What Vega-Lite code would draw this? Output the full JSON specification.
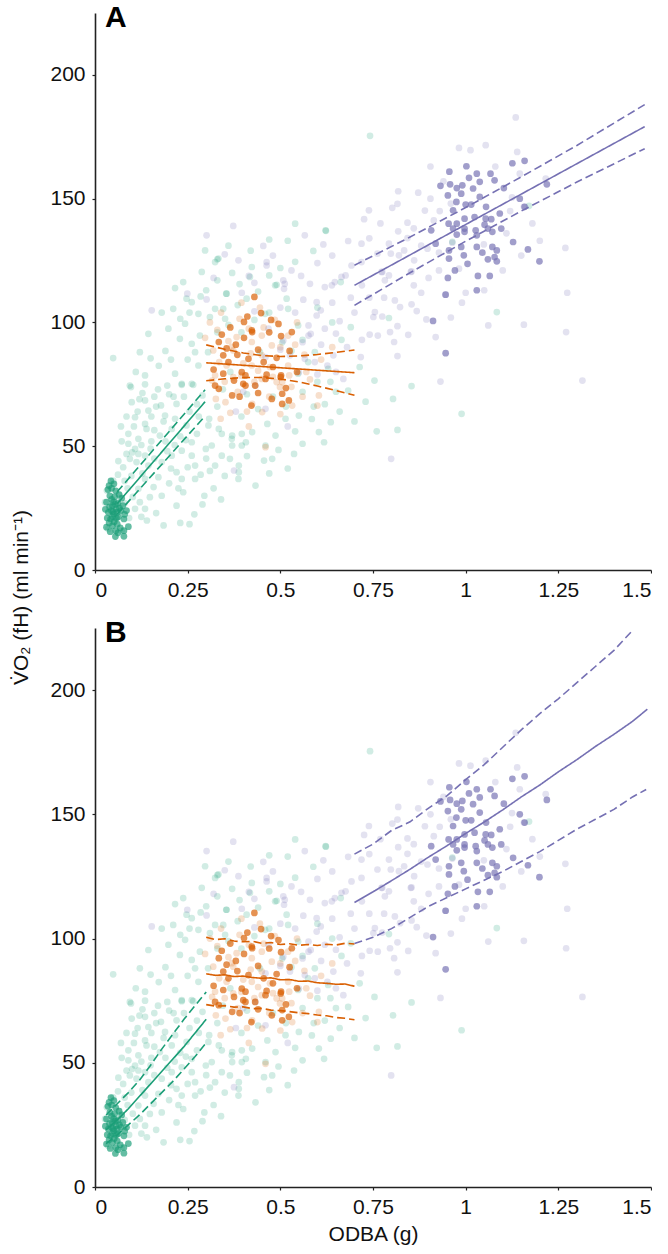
{
"$schema": "https://vega.github.io/schema/vega-lite/v6.json",
"padding": {"left": 10, "top": 3, "right": 0, "bottom": 5},
"background": "white",
"config": {
 "view": {"stroke": null},
 "font": "Liberation Sans",
 "axis": {"grid": false, "domainColor": "#222222", "domainWidth": 1.6, "tickColor": "#222222", "tickSize": 3, "tickWidth": 1.2, "labelFontSize": 21, "labelColor": "#111111", "titleFontSize": 21, "titleFontWeight": "normal", "titleColor": "#111111", "labelFont": "Liberation Sans", "titleFont": "Liberation Sans"}
},
"datasets": {
 "pts": [
{"x":0.097,"y":73.9,"g":"G","s":"all"},{"x":0.099,"y":67.8,"g":"G","s":"all"},{"x":0.135,"y":68.5,"g":"G","s":"all"},{"x":0.144,"y":64.4,"g":"G","s":"all"},{"x":0.108,"y":61.7,"g":"G","s":"all"},{"x":0.135,"y":59.0,"g":"G","s":"all"},{"x":0.189,"y":62.4,"g":"G","s":"all"},{"x":0.220,"y":67.1,"g":"G","s":"all"},{"x":0.234,"y":74.8,"g":"G","s":"all"},{"x":0.265,"y":74.8,"g":"G","s":"all"},{"x":0.216,"y":61.1,"g":"G","s":"all"},{"x":0.247,"y":58.4,"g":"G","s":"all"},{"x":0.090,"y":55.0,"g":"G","s":"all"},{"x":0.117,"y":53.0,"g":"G","s":"all"},{"x":0.139,"y":57.0,"g":"G","s":"all"},{"x":0.175,"y":54.3,"g":"G","s":"all"},{"x":0.207,"y":57.0,"g":"G","s":"all"},{"x":0.090,"y":51.0,"g":"G","s":"all"},{"x":0.108,"y":48.9,"g":"G","s":"all"},{"x":0.085,"y":46.9,"g":"G","s":"all"},{"x":0.117,"y":46.9,"g":"G","s":"all"},{"x":0.135,"y":46.2,"g":"G","s":"all"},{"x":0.094,"y":44.9,"g":"G","s":"all"},{"x":0.112,"y":43.6,"g":"G","s":"all"},{"x":0.076,"y":41.5,"g":"G","s":"all"},{"x":0.144,"y":42.2,"g":"G","s":"all"},{"x":0.180,"y":43.6,"g":"G","s":"all"},{"x":0.207,"y":46.2,"g":"G","s":"all"},{"x":0.234,"y":48.2,"g":"G","s":"all"},{"x":0.261,"y":46.2,"g":"G","s":"all"},{"x":0.270,"y":42.2,"g":"G","s":"all"},{"x":0.270,"y":36.8,"g":"G","s":"all"},{"x":0.234,"y":36.8,"g":"G","s":"all"},{"x":0.220,"y":39.5,"g":"G","s":"all"},{"x":0.171,"y":37.5,"g":"G","s":"all"},{"x":0.135,"y":36.8,"g":"G","s":"all"},{"x":0.117,"y":32.8,"g":"G","s":"all"},{"x":0.148,"y":29.4,"g":"G","s":"all"},{"x":0.121,"y":27.4,"g":"G","s":"all"},{"x":0.135,"y":24.7,"g":"G","s":"all"},{"x":0.108,"y":24.7,"g":"G","s":"all"},{"x":0.220,"y":26.0,"g":"G","s":"all"},{"x":0.238,"y":31.4,"g":"G","s":"all"},{"x":0.072,"y":15.9,"g":"G","s":"all"},{"x":0.036,"y":16.6,"g":"G","s":"all"},{"x":0.054,"y":20.6,"g":"G","s":"all"},{"x":0.027,"y":27.4,"g":"G","s":"all"},{"x":0.032,"y":32.1,"g":"G","s":"all"},{"x":0.049,"y":36.1,"g":"G","s":"all"},{"x":0.306,"y":58.4,"g":"G","s":"all"},{"x":0.342,"y":55.0,"g":"G","s":"all"},{"x":0.369,"y":53.0,"g":"G","s":"all"},{"x":0.396,"y":55.0,"g":"G","s":"all"},{"x":0.315,"y":50.3,"g":"G","s":"all"},{"x":0.342,"y":46.2,"g":"G","s":"all"},{"x":0.364,"y":44.9,"g":"G","s":"all"},{"x":0.387,"y":36.8,"g":"G","s":"all"},{"x":0.396,"y":50.3,"g":"G","s":"all"},{"x":0.324,"y":42.2,"g":"G","s":"all"},{"x":0.261,"y":51.6,"g":"G","s":"all"},{"x":0.180,"y":30.0,"g":"G","s":"all"},
{"x":0.100,"y":47.5,"g":"G","s":"all"},{"x":0.125,"y":50.5,"g":"G","s":"all"},{"x":0.150,"y":49.0,"g":"G","s":"all"},{"x":0.160,"y":45.0,"g":"G","s":"all"},{"x":0.128,"y":39.0,"g":"G","s":"all"},{"x":0.098,"y":38.0,"g":"G","s":"all"},{"x":0.088,"y":33.0,"g":"G","s":"all"},{"x":0.102,"y":29.5,"g":"G","s":"all"},{"x":0.158,"y":33.5,"g":"G","s":"all"},{"x":0.195,"y":48.0,"g":"G","s":"all"},{"x":0.205,"y":41.0,"g":"G","s":"all"},{"x":0.185,"y":60.0,"g":"G","s":"all"},{"x":0.165,"y":66.0,"g":"G","s":"all"},{"x":0.120,"y":69.0,"g":"G","s":"all"},{"x":0.255,"y":64.0,"g":"G","s":"all"},{"x":0.280,"y":62.0,"g":"G","s":"all"},{"x":0.290,"y":70.5,"g":"G","s":"all"},{"x":0.230,"y":54.0,"g":"G","s":"all"},{"x":0.250,"y":41.5,"g":"G","s":"all"},{"x":0.200,"y":35.0,"g":"G","s":"all"},{"x":0.140,"y":20.0,"g":"G","s":"all"},{"x":0.125,"y":21.5,"g":"G","s":"all"},{"x":0.165,"y":23.0,"g":"G","s":"all"},{"x":0.065,"y":30.5,"g":"G","s":"all"},{"x":0.080,"y":27.0,"g":"G","s":"all"},{"x":0.092,"y":21.0,"g":"G","s":"all"},{"x":0.152,"y":52.0,"g":"G","s":"all"},{"x":0.072,"y":52.0,"g":"G","s":"all"},{"x":0.063,"y":44.0,"g":"G","s":"all"},{"x":0.170,"y":73.0,"g":"G","s":"all"},{"x":0.200,"y":71.0,"g":"G","s":"all"},{"x":0.135,"y":75.0,"g":"G","s":"all"},{"x":0.295,"y":30.0,"g":"G","s":"all"},{"x":0.285,"y":38.5,"g":"G","s":"all"},{"x":0.225,"y":33.0,"g":"G","s":"all"},{"x":0.300,"y":45.0,"g":"G","s":"all"},{"x":0.310,"y":40.0,"g":"G","s":"all"},{"x":0.268,"y":22.5,"g":"G","s":"all"},{"x":0.230,"y":19.0,"g":"G","s":"all"},{"x":0.185,"y":18.0,"g":"G","s":"all"},
{"x":0.540,"y":139.9,"g":"G","s":"all"},{"x":0.623,"y":137.0,"g":"G","s":"all"},{"x":0.589,"y":128.9,"g":"G","s":"all"},{"x":0.297,"y":129.1,"g":"G","s":"all"},{"x":0.324,"y":124.4,"g":"G","s":"all"},{"x":0.333,"y":125.8,"g":"G","s":"all"},{"x":0.288,"y":120.4,"g":"G","s":"all"},{"x":0.423,"y":122.4,"g":"G","s":"all"},{"x":0.418,"y":118.4,"g":"G","s":"all"},{"x":0.238,"y":116.3,"g":"G","s":"all"},{"x":0.216,"y":113.9,"g":"G","s":"all"},{"x":0.247,"y":109.6,"g":"G","s":"all"},{"x":0.261,"y":108.2,"g":"G","s":"all"},{"x":0.355,"y":111.6,"g":"G","s":"all"},{"x":0.409,"y":109.6,"g":"G","s":"all"},{"x":0.486,"y":115.0,"g":"G","s":"all"},{"x":0.517,"y":109.6,"g":"G","s":"all"},{"x":0.211,"y":105.5,"g":"G","s":"all"},{"x":0.279,"y":103.5,"g":"G","s":"all"},{"x":0.324,"y":105.5,"g":"G","s":"all"},{"x":0.346,"y":105.5,"g":"G","s":"all"},{"x":0.351,"y":101.5,"g":"G","s":"all"},{"x":0.310,"y":102.2,"g":"G","s":"all"},{"x":0.144,"y":95.4,"g":"G","s":"all"},{"x":0.198,"y":97.5,"g":"G","s":"all"},{"x":0.243,"y":99.5,"g":"G","s":"all"},{"x":0.121,"y":88.0,"g":"G","s":"all"},{"x":0.229,"y":93.4,"g":"G","s":"all"},{"x":0.261,"y":91.4,"g":"G","s":"all"},{"x":0.283,"y":94.7,"g":"G","s":"all"},{"x":0.049,"y":85.6,"g":"G","s":"all"},{"x":0.135,"y":78.6,"g":"G","s":"all"},{"x":0.094,"y":74.5,"g":"G","s":"all"},{"x":0.216,"y":79.3,"g":"G","s":"all"},{"x":0.279,"y":82.6,"g":"G","s":"all"},{"x":0.234,"y":75.2,"g":"G","s":"all"},{"x":0.261,"y":75.2,"g":"G","s":"all"},{"x":0.548,"y":98.8,"g":"G","s":"all"},{"x":0.548,"y":79.3,"g":"G","s":"all"},{"x":0.593,"y":88.0,"g":"G","s":"all"},{"x":0.629,"y":81.3,"g":"G","s":"all"},{"x":0.459,"y":103.5,"g":"G","s":"all"},{"x":0.521,"y":105.5,"g":"G","s":"all"},
{"x":0.305,"y":88.0,"g":"G","s":"all"},{"x":0.330,"y":96.0,"g":"G","s":"all"},{"x":0.360,"y":99.0,"g":"G","s":"all"},{"x":0.385,"y":107.0,"g":"G","s":"all"},{"x":0.395,"y":96.0,"g":"G","s":"all"},{"x":0.430,"y":101.0,"g":"G","s":"all"},{"x":0.445,"y":88.0,"g":"G","s":"all"},{"x":0.470,"y":104.0,"g":"G","s":"all"},{"x":0.505,"y":92.0,"g":"G","s":"all"},{"x":0.530,"y":88.5,"g":"G","s":"all"},{"x":0.560,"y":93.0,"g":"G","s":"all"},{"x":0.575,"y":84.0,"g":"G","s":"all"},{"x":0.345,"y":73.0,"g":"G","s":"all"},{"x":0.365,"y":80.0,"g":"G","s":"all"},{"x":0.410,"y":71.0,"g":"G","s":"all"},{"x":0.440,"y":65.0,"g":"G","s":"all"},{"x":0.480,"y":70.0,"g":"G","s":"all"},{"x":0.515,"y":66.0,"g":"G","s":"all"},{"x":0.560,"y":72.0,"g":"G","s":"all"},{"x":0.600,"y":76.0,"g":"G","s":"all"},{"x":0.330,"y":66.0,"g":"G","s":"all"},{"x":0.395,"y":62.0,"g":"G","s":"all"},{"x":0.465,"y":59.0,"g":"G","s":"all"},{"x":0.540,"y":56.0,"g":"G","s":"all"},{"x":0.585,"y":61.0,"g":"G","s":"all"},{"x":0.620,"y":67.0,"g":"G","s":"all"},{"x":0.650,"y":72.0,"g":"G","s":"all"},{"x":0.665,"y":93.0,"g":"G","s":"all"},{"x":0.640,"y":100.0,"g":"G","s":"all"},{"x":0.600,"y":106.0,"g":"G","s":"all"},
{"x":0.299,"y":48.9,"g":"G","s":"all"},{"x":0.370,"y":54.3,"g":"G","s":"all"},{"x":0.370,"y":50.3,"g":"G","s":"all"},{"x":0.388,"y":42.2,"g":"G","s":"all"},{"x":0.388,"y":39.5,"g":"G","s":"all"},{"x":0.407,"y":51.6,"g":"G","s":"all"},{"x":0.424,"y":55.7,"g":"G","s":"all"},{"x":0.460,"y":50.3,"g":"G","s":"all"},{"x":0.478,"y":44.9,"g":"G","s":"all"},{"x":0.537,"y":46.9,"g":"G","s":"all"},{"x":0.604,"y":55.7,"g":"G","s":"all"},{"x":0.618,"y":51.6,"g":"G","s":"all"},{"x":0.636,"y":59.7,"g":"G","s":"all"},{"x":0.334,"y":57.0,"g":"G","s":"all"},{"x":0.308,"y":61.1,"g":"G","s":"all"},{"x":0.514,"y":61.1,"g":"G","s":"all"},{"x":0.550,"y":62.4,"g":"G","s":"all"},{"x":0.487,"y":54.3,"g":"G","s":"all"},{"x":0.456,"y":44.2,"g":"G","s":"all"},{"x":0.433,"y":34.1,"g":"G","s":"all"},
{"x":0.663,"y":116.3,"g":"G","s":"all"},{"x":0.793,"y":101.8,"g":"G","s":"all"},{"x":0.690,"y":98.1,"g":"G","s":"all"},{"x":0.714,"y":82.0,"g":"G","s":"all"},{"x":0.754,"y":76.5,"g":"G","s":"all"},{"x":0.854,"y":74.3,"g":"G","s":"all"},{"x":0.804,"y":69.1,"g":"G","s":"all"},{"x":0.816,"y":56.6,"g":"G","s":"all"},{"x":0.989,"y":63.1,"g":"G","s":"all"},{"x":1.084,"y":104.2,"g":"G","s":"all"},{"x":0.683,"y":72.5,"g":"G","s":"all"},{"x":0.742,"y":175.4,"g":"G","s":"all"},{"x":1.171,"y":147.1,"g":"G","s":"all"},{"x":0.622,"y":137.2,"g":"G","s":"all"},{"x":0.330,"y":125.5,"g":"G","s":"all"},{"x":0.354,"y":111.6,"g":"G","s":"all"},{"x":0.490,"y":115.2,"g":"G","s":"all"},{"x":0.964,"y":132.6,"g":"G","s":"all"},
{"x":0.105,"y":58.0,"g":"G","s":"all"},{"x":0.115,"y":64.0,"g":"G","s":"all"},{"x":0.128,"y":71.5,"g":"G","s":"all"},{"x":0.152,"y":62.0,"g":"G","s":"all"},{"x":0.160,"y":70.0,"g":"G","s":"all"},{"x":0.178,"y":66.5,"g":"G","s":"all"},{"x":0.195,"y":74.5,"g":"G","s":"all"},{"x":0.212,"y":70.0,"g":"G","s":"all"},{"x":0.240,"y":70.0,"g":"G","s":"all"},{"x":0.275,"y":67.0,"g":"G","s":"all"},{"x":0.160,"y":56.5,"g":"G","s":"all"},{"x":0.190,"y":52.0,"g":"G","s":"all"},{"x":0.215,"y":50.5,"g":"G","s":"all"},{"x":0.245,"y":52.5,"g":"G","s":"all"},{"x":0.275,"y":55.0,"g":"G","s":"all"},{"x":0.172,"y":82.5,"g":"G","s":"all"},{"x":0.190,"y":88.5,"g":"G","s":"all"},{"x":0.205,"y":85.0,"g":"G","s":"all"},{"x":0.250,"y":85.0,"g":"G","s":"all"},{"x":0.270,"y":88.0,"g":"G","s":"all"},{"x":0.255,"y":104.0,"g":"G","s":"all"},{"x":0.230,"y":101.5,"g":"G","s":"all"},{"x":0.180,"y":104.0,"g":"G","s":"all"},{"x":0.300,"y":113.0,"g":"G","s":"all"},{"x":0.330,"y":117.0,"g":"G","s":"all"},{"x":0.370,"y":120.0,"g":"G","s":"all"},{"x":0.390,"y":115.5,"g":"G","s":"all"},{"x":0.440,"y":112.5,"g":"G","s":"all"},{"x":0.470,"y":119.0,"g":"G","s":"all"},{"x":0.500,"y":122.0,"g":"G","s":"all"},{"x":0.540,"y":124.5,"g":"G","s":"all"},{"x":0.520,"y":133.0,"g":"G","s":"all"},{"x":0.470,"y":133.5,"g":"G","s":"all"},{"x":0.420,"y":129.0,"g":"G","s":"all"},{"x":0.360,"y":131.0,"g":"G","s":"all"},{"x":0.285,"y":110.5,"g":"G","s":"all"},{"x":0.150,"y":85.5,"g":"G","s":"all"},{"x":0.110,"y":80.0,"g":"G","s":"all"},{"x":0.085,"y":62.0,"g":"G","s":"all"},{"x":0.070,"y":58.0,"g":"G","s":"all"},{"x":0.062,"y":38.5,"g":"G","s":"all"},{"x":0.080,"y":36.0,"g":"G","s":"all"},{"x":0.290,"y":26.5,"g":"G","s":"all"},{"x":0.255,"y":18.5,"g":"G","s":"all"},{"x":0.320,"y":33.0,"g":"G","s":"all"},{"x":0.350,"y":38.0,"g":"G","s":"all"},{"x":0.410,"y":46.0,"g":"G","s":"all"},{"x":0.495,"y":48.5,"g":"G","s":"all"},{"x":0.560,"y":51.0,"g":"G","s":"all"},{"x":0.590,"y":66.0,"g":"G","s":"all"},{"x":0.635,"y":76.0,"g":"G","s":"all"},{"x":0.660,"y":64.0,"g":"G","s":"all"},{"x":0.700,"y":60.0,"g":"G","s":"all"},{"x":0.730,"y":68.0,"g":"G","s":"all"},{"x":0.760,"y":56.0,"g":"G","s":"all"},{"x":0.470,"y":39.0,"g":"G","s":"all"},{"x":0.520,"y":41.0,"g":"G","s":"all"},{"x":0.340,"y":28.5,"g":"G","s":"all"},
{"x":0.297,"y":93.8,"g":"O","s":"all"},{"x":0.319,"y":88.7,"g":"O","s":"all"},{"x":0.369,"y":90.1,"g":"O","s":"all"},{"x":0.423,"y":92.1,"g":"O","s":"all"},{"x":0.450,"y":94.7,"g":"O","s":"all"},{"x":0.477,"y":90.7,"g":"O","s":"all"},{"x":0.521,"y":94.7,"g":"O","s":"all"},{"x":0.450,"y":86.7,"g":"O","s":"all"},{"x":0.355,"y":82.6,"g":"O","s":"all"},{"x":0.423,"y":82.6,"g":"O","s":"all"},{"x":0.472,"y":82.0,"g":"O","s":"all"},{"x":0.521,"y":82.6,"g":"O","s":"all"},{"x":0.324,"y":78.6,"g":"O","s":"all"},{"x":0.373,"y":77.9,"g":"O","s":"all"},{"x":0.450,"y":77.2,"g":"O","s":"all"},{"x":0.490,"y":75.9,"g":"O","s":"all"},{"x":0.524,"y":78.6,"g":"O","s":"all"},{"x":0.373,"y":88.7,"g":"O","s":"all"},{"x":0.415,"y":97.5,"g":"O","s":"all"},{"x":0.382,"y":94.1,"g":"O","s":"all"},{"x":0.499,"y":73.9,"g":"O","s":"all"},{"x":0.326,"y":69.1,"g":"O","s":"all"},{"x":0.352,"y":67.8,"g":"O","s":"all"},{"x":0.424,"y":67.1,"g":"O","s":"all"},{"x":0.451,"y":63.8,"g":"O","s":"all"},{"x":0.460,"y":49.6,"g":"O","s":"all"},{"x":0.316,"y":76.5,"g":"O","s":"all"},{"x":0.600,"y":66.4,"g":"O","s":"all"},{"x":0.604,"y":70.5,"g":"O","s":"all"},{"x":0.505,"y":75.9,"g":"O","s":"all"},{"x":0.532,"y":66.4,"g":"O","s":"all"},{"x":0.339,"y":61.1,"g":"O","s":"all"},{"x":0.310,"y":100.0,"g":"O","s":"all"},{"x":0.340,"y":104.0,"g":"O","s":"all"},{"x":0.395,"y":108.0,"g":"O","s":"all"},{"x":0.445,"y":106.0,"g":"O","s":"all"},{"x":0.485,"y":101.0,"g":"O","s":"all"},{"x":0.545,"y":100.0,"g":"O","s":"all"},{"x":0.565,"y":87.0,"g":"O","s":"all"},{"x":0.580,"y":77.0,"g":"O","s":"all"},{"x":0.335,"y":84.0,"g":"O","s":"all"},{"x":0.400,"y":83.5,"g":"O","s":"all"},{"x":0.430,"y":76.0,"g":"O","s":"all"},{"x":0.470,"y":70.0,"g":"O","s":"all"},{"x":0.385,"y":72.0,"g":"O","s":"all"},{"x":0.560,"y":70.0,"g":"O","s":"all"},{"x":0.415,"y":58.0,"g":"O","s":"all"},{"x":0.640,"y":90.0,"g":"O","s":"all"},{"x":0.610,"y":85.0,"g":"O","s":"all"},
{"x":0.330,"y":97.0,"g":"O","s":"all"},{"x":0.360,"y":92.5,"g":"O","s":"all"},{"x":0.390,"y":101.5,"g":"O","s":"all"},{"x":0.420,"y":87.5,"g":"O","s":"all"},{"x":0.455,"y":98.0,"g":"O","s":"all"},{"x":0.500,"y":90.0,"g":"O","s":"all"},{"x":0.540,"y":91.0,"g":"O","s":"all"},{"x":0.350,"y":76.0,"g":"O","s":"all"},{"x":0.395,"y":78.5,"g":"O","s":"all"},{"x":0.440,"y":80.5,"g":"O","s":"all"},{"x":0.480,"y":78.0,"g":"O","s":"all"},{"x":0.530,"y":74.0,"g":"O","s":"all"},{"x":0.570,"y":80.0,"g":"O","s":"all"},{"x":0.365,"y":63.5,"g":"O","s":"all"},{"x":0.410,"y":64.0,"g":"O","s":"all"},{"x":0.500,"y":63.0,"g":"O","s":"all"},
{"x":0.301,"y":135.2,"g":"P","s":"all"},{"x":0.373,"y":139.0,"g":"P","s":"all"},{"x":0.566,"y":135.2,"g":"P","s":"all"},{"x":0.616,"y":131.5,"g":"P","s":"all"},{"x":0.454,"y":130.9,"g":"P","s":"all"},{"x":0.387,"y":125.1,"g":"P","s":"all"},{"x":0.463,"y":124.4,"g":"P","s":"all"},{"x":0.463,"y":123.0,"g":"P","s":"all"},{"x":0.508,"y":117.0,"g":"P","s":"all"},{"x":0.512,"y":115.6,"g":"P","s":"all"},{"x":0.556,"y":118.8,"g":"P","s":"all"},{"x":0.580,"y":115.6,"g":"P","s":"all"},{"x":0.620,"y":114.3,"g":"P","s":"all"},{"x":0.639,"y":115.0,"g":"P","s":"all"},{"x":0.647,"y":116.3,"g":"P","s":"all"},{"x":0.665,"y":118.4,"g":"P","s":"all"},{"x":0.396,"y":112.0,"g":"P","s":"all"},{"x":0.301,"y":109.3,"g":"P","s":"all"},{"x":0.153,"y":104.9,"g":"P","s":"all"},{"x":0.562,"y":109.2,"g":"P","s":"all"},{"x":0.598,"y":108.2,"g":"P","s":"all"},{"x":0.598,"y":102.8,"g":"P","s":"all"},{"x":0.620,"y":97.5,"g":"P","s":"all"},{"x":0.576,"y":98.8,"g":"P","s":"all"},{"x":0.576,"y":94.7,"g":"P","s":"all"},{"x":0.508,"y":92.7,"g":"P","s":"all"},{"x":0.468,"y":97.5,"g":"P","s":"all"},{"x":0.526,"y":86.7,"g":"P","s":"all"},{"x":0.566,"y":85.3,"g":"P","s":"all"},{"x":0.593,"y":84.0,"g":"P","s":"all"},{"x":0.643,"y":86.7,"g":"P","s":"all"},{"x":0.670,"y":77.2,"g":"P","s":"all"},{"x":0.375,"y":40.2,"g":"P","s":"all"},{"x":0.460,"y":65.1,"g":"P","s":"all"},{"x":0.433,"y":74.5,"g":"P","s":"all"},{"x":0.510,"y":113.6,"g":"P","s":"all"},{"x":0.609,"y":104.9,"g":"P","s":"all"},{"x":0.582,"y":95.4,"g":"P","s":"all"},{"x":0.550,"y":79.9,"g":"P","s":"all"},{"x":0.627,"y":82.6,"g":"P","s":"all"},{"x":0.415,"y":118.8,"g":"P","s":"all"},{"x":0.249,"y":111.6,"g":"P","s":"all"},
{"x":0.676,"y":119.0,"g":"P","s":"all"},{"x":0.775,"y":120.4,"g":"P","s":"all"},{"x":0.852,"y":120.4,"g":"P","s":"all"},{"x":0.782,"y":117.0,"g":"P","s":"all"},{"x":0.809,"y":108.9,"g":"P","s":"all"},{"x":0.823,"y":106.2,"g":"P","s":"all"},{"x":0.854,"y":107.3,"g":"P","s":"all"},{"x":0.868,"y":104.6,"g":"P","s":"all"},{"x":0.755,"y":104.2,"g":"P","s":"all"},{"x":0.751,"y":102.2,"g":"P","s":"all"},{"x":0.775,"y":102.4,"g":"P","s":"all"},{"x":0.816,"y":98.5,"g":"P","s":"all"},{"x":0.894,"y":101.2,"g":"P","s":"all"},{"x":0.741,"y":95.1,"g":"P","s":"all"},{"x":0.763,"y":94.7,"g":"P","s":"all"},{"x":0.796,"y":96.1,"g":"P","s":"all"},{"x":0.807,"y":92.1,"g":"P","s":"all"},{"x":0.845,"y":95.0,"g":"P","s":"all"},{"x":0.919,"y":94.1,"g":"P","s":"all"},{"x":0.945,"y":111.2,"g":"P","s":"all"},{"x":0.717,"y":86.0,"g":"P","s":"all"},{"x":0.816,"y":86.4,"g":"P","s":"all"},{"x":0.932,"y":76.1,"g":"P","s":"all"},{"x":1.061,"y":98.8,"g":"P","s":"all"},{"x":1.157,"y":99.1,"g":"P","s":"all"},{"x":1.274,"y":112.0,"g":"P","s":"all"},{"x":1.271,"y":96.1,"g":"P","s":"all"},{"x":1.315,"y":76.5,"g":"P","s":"all"},{"x":0.799,"y":44.9,"g":"P","s":"all"},{"x":1.269,"y":130.1,"g":"P","s":"all"},{"x":1.139,"y":168.9,"g":"P","s":"all"},{"x":1.146,"y":160.1,"g":"P","s":"all"},{"x":1.135,"y":182.8,"g":"P","s":"all"},{"x":0.982,"y":170.5,"g":"P","s":"all"},{"x":1.013,"y":169.6,"g":"P","s":"all"},{"x":1.054,"y":171.6,"g":"P","s":"all"},{"x":0.818,"y":153.0,"g":"P","s":"all"},{"x":0.872,"y":152.4,"g":"P","s":"all"},{"x":0.802,"y":146.3,"g":"P","s":"all"},{"x":0.816,"y":147.9,"g":"P","s":"all"},{"x":0.739,"y":145.3,"g":"P","s":"all"},{"x":0.726,"y":141.7,"g":"P","s":"all"},{"x":0.890,"y":145.2,"g":"P","s":"all"},{"x":0.843,"y":140.3,"g":"P","s":"all"},{"x":0.914,"y":141.2,"g":"P","s":"all"},{"x":0.818,"y":136.8,"g":"P","s":"all"},{"x":0.683,"y":132.9,"g":"P","s":"all"},{"x":0.719,"y":131.8,"g":"P","s":"all"},{"x":0.793,"y":131.8,"g":"P","s":"all"},{"x":0.843,"y":134.1,"g":"P","s":"all"},{"x":0.762,"y":127.8,"g":"P","s":"all"},{"x":0.798,"y":127.8,"g":"P","s":"all"},{"x":0.820,"y":127.1,"g":"P","s":"all"},{"x":0.834,"y":129.1,"g":"P","s":"all"},{"x":0.692,"y":123.0,"g":"P","s":"all"},{"x":0.719,"y":124.4,"g":"P","s":"all"},{"x":0.861,"y":125.1,"g":"P","s":"all"},{"x":0.897,"y":129.8,"g":"P","s":"all"},{"x":0.773,"y":120.4,"g":"P","s":"all"},{"x":0.793,"y":119.0,"g":"P","s":"all"},{"x":0.854,"y":120.6,"g":"P","s":"all"},{"x":0.928,"y":128.2,"g":"P","s":"all"},{"x":0.928,"y":121.0,"g":"P","s":"all"},{"x":0.964,"y":132.2,"g":"P","s":"all"},{"x":1.049,"y":131.5,"g":"P","s":"all"},{"x":0.982,"y":121.7,"g":"P","s":"all"},{"x":1.216,"y":158.1,"g":"P","s":"all"},{"x":1.157,"y":146.7,"g":"P","s":"all"},{"x":1.125,"y":150.5,"g":"P","s":"all"},{"x":1.000,"y":112.0,"g":"P","s":"all"},{"x":1.110,"y":136.0,"g":"P","s":"all"},{"x":0.960,"y":148.0,"g":"P","s":"all"},{"x":0.905,"y":163.0,"g":"P","s":"all"},
{"x":0.320,"y":118.0,"g":"P","s":"all"},{"x":0.350,"y":127.5,"g":"P","s":"all"},{"x":0.430,"y":116.0,"g":"P","s":"all"},{"x":0.480,"y":127.0,"g":"P","s":"all"},{"x":0.530,"y":121.0,"g":"P","s":"all"},{"x":0.600,"y":124.0,"g":"P","s":"all"},{"x":0.640,"y":127.0,"g":"P","s":"all"},{"x":0.690,"y":110.0,"g":"P","s":"all"},{"x":0.720,"y":115.0,"g":"P","s":"all"},{"x":0.740,"y":110.0,"g":"P","s":"all"},{"x":0.700,"y":104.0,"g":"P","s":"all"},{"x":0.660,"y":100.5,"g":"P","s":"all"},{"x":0.640,"y":108.0,"g":"P","s":"all"},{"x":0.540,"y":104.0,"g":"P","s":"all"},{"x":0.500,"y":106.0,"g":"P","s":"all"},{"x":0.430,"y":104.5,"g":"P","s":"all"},{"x":0.560,"y":92.0,"g":"P","s":"all"},{"x":0.610,"y":91.0,"g":"P","s":"all"},{"x":0.650,"y":95.5,"g":"P","s":"all"},{"x":0.680,"y":90.0,"g":"P","s":"all"},{"x":0.720,"y":93.0,"g":"P","s":"all"},{"x":0.600,"y":79.0,"g":"P","s":"all"},{"x":0.650,"y":80.0,"g":"P","s":"all"},{"x":0.500,"y":89.0,"g":"P","s":"all"},{"x":0.460,"y":86.0,"g":"P","s":"all"},{"x":0.400,"y":72.0,"g":"P","s":"all"},{"x":0.380,"y":64.0,"g":"P","s":"all"},{"x":0.520,"y":58.0,"g":"P","s":"all"},{"x":0.860,"y":115.0,"g":"P","s":"all"},{"x":0.880,"y":112.0,"g":"P","s":"all"},{"x":0.900,"y":118.0,"g":"P","s":"all"},{"x":0.780,"y":110.0,"g":"P","s":"all"},{"x":0.740,"y":134.0,"g":"P","s":"all"},{"x":0.770,"y":140.0,"g":"P","s":"all"},{"x":0.860,"y":138.0,"g":"P","s":"all"},{"x":0.880,"y":131.0,"g":"P","s":"all"},{"x":0.905,"y":150.0,"g":"P","s":"all"},{"x":0.930,"y":145.0,"g":"P","s":"all"},{"x":0.940,"y":157.0,"g":"P","s":"all"},{"x":1.080,"y":163.0,"g":"P","s":"all"},{"x":1.120,"y":145.0,"g":"P","s":"all"},{"x":1.180,"y":140.0,"g":"P","s":"all"},{"x":1.200,"y":133.0,"g":"P","s":"all"},{"x":1.100,"y":121.0,"g":"P","s":"all"},{"x":1.150,"y":127.0,"g":"P","s":"all"},{"x":1.050,"y":113.0,"g":"P","s":"all"},{"x":0.990,"y":108.0,"g":"P","s":"all"},{"x":0.960,"y":102.0,"g":"P","s":"all"},
{"x":0.038,"y":34.1,"g":"G","s":"sel"},{"x":0.051,"y":34.8,"g":"G","s":"sel"},{"x":0.040,"y":30.0,"g":"G","s":"sel"},{"x":0.031,"y":27.4,"g":"G","s":"sel"},{"x":0.047,"y":26.0,"g":"G","s":"sel"},{"x":0.057,"y":24.7,"g":"G","s":"sel"},{"x":0.036,"y":23.3,"g":"G","s":"sel"},{"x":0.051,"y":22.6,"g":"G","s":"sel"},{"x":0.060,"y":23.3,"g":"G","s":"sel"},{"x":0.042,"y":20.6,"g":"G","s":"sel"},{"x":0.031,"y":17.3,"g":"G","s":"sel"},{"x":0.047,"y":17.9,"g":"G","s":"sel"},{"x":0.056,"y":15.9,"g":"G","s":"sel"},{"x":0.078,"y":15.9,"g":"G","s":"sel"},{"x":0.078,"y":13.6,"g":"G","s":"sel"},{"x":0.078,"y":20.6,"g":"G","s":"sel"},{"x":0.045,"y":28.5,"g":"G","s":"sel"},{"x":0.053,"y":29.5,"g":"G","s":"sel"},{"x":0.062,"y":27.0,"g":"G","s":"sel"},{"x":0.066,"y":25.0,"g":"G","s":"sel"},{"x":0.058,"y":21.0,"g":"G","s":"sel"},{"x":0.044,"y":24.0,"g":"G","s":"sel"},{"x":0.039,"y":25.5,"g":"G","s":"sel"},{"x":0.050,"y":27.5,"g":"G","s":"sel"},{"x":0.055,"y":26.5,"g":"G","s":"sel"},{"x":0.049,"y":23.5,"g":"G","s":"sel"},{"x":0.063,"y":21.5,"g":"G","s":"sel"},{"x":0.070,"y":24.0,"g":"G","s":"sel"},{"x":0.035,"y":32.5,"g":"G","s":"sel"},{"x":0.045,"y":33.0,"g":"G","s":"sel"},{"x":0.033,"y":21.0,"g":"G","s":"sel"},{"x":0.028,"y":24.5,"g":"G","s":"sel"},{"x":0.052,"y":19.5,"g":"G","s":"sel"},{"x":0.060,"y":18.5,"g":"G","s":"sel"},{"x":0.068,"y":17.0,"g":"G","s":"sel"},{"x":0.041,"y":15.5,"g":"G","s":"sel"},{"x":0.055,"y":13.5,"g":"G","s":"sel"},{"x":0.072,"y":29.0,"g":"G","s":"sel"},{"x":0.085,"y":24.0,"g":"G","s":"sel"},{"x":0.090,"y":17.5,"g":"G","s":"sel"},{"x":0.075,"y":26.0,"g":"G","s":"sel"},{"x":0.065,"y":30.5,"g":"G","s":"sel"},{"x":0.043,"y":36.0,"g":"G","s":"sel"},{"x":0.056,"y":32.0,"g":"G","s":"sel"},{"x":0.047,"y":21.5,"g":"G","s":"sel"},{"x":0.038,"y":19.0,"g":"G","s":"sel"},{"x":0.062,"y":15.0,"g":"G","s":"sel"},{"x":0.080,"y":22.5,"g":"G","s":"sel"},
{"x":0.430,"y":110.3,"g":"O","s":"sel"},{"x":0.448,"y":103.8,"g":"O","s":"sel"},{"x":0.411,"y":102.4,"g":"O","s":"sel"},{"x":0.423,"y":96.8,"g":"O","s":"sel"},{"x":0.342,"y":95.1,"g":"O","s":"sel"},{"x":0.402,"y":93.8,"g":"O","s":"sel"},{"x":0.502,"y":94.5,"g":"O","s":"sel"},{"x":0.531,"y":96.1,"g":"O","s":"sel"},{"x":0.495,"y":99.4,"g":"O","s":"sel"},{"x":0.384,"y":86.9,"g":"O","s":"sel"},{"x":0.414,"y":85.3,"g":"O","s":"sel"},{"x":0.490,"y":85.7,"g":"O","s":"sel"},{"x":0.346,"y":86.7,"g":"O","s":"sel"},{"x":0.346,"y":79.3,"g":"O","s":"sel"},{"x":0.396,"y":79.9,"g":"O","s":"sel"},{"x":0.406,"y":78.6,"g":"O","s":"sel"},{"x":0.463,"y":78.9,"g":"O","s":"sel"},{"x":0.502,"y":78.6,"g":"O","s":"sel"},{"x":0.400,"y":75.2,"g":"O","s":"sel"},{"x":0.432,"y":74.5,"g":"O","s":"sel"},{"x":0.324,"y":74.5,"g":"O","s":"sel"},{"x":0.334,"y":73.2,"g":"O","s":"sel"},{"x":0.370,"y":70.5,"g":"O","s":"sel"},{"x":0.406,"y":74.5,"g":"O","s":"sel"},{"x":0.422,"y":66.4,"g":"O","s":"sel"},{"x":0.460,"y":77.2,"g":"O","s":"sel"},{"x":0.477,"y":69.1,"g":"O","s":"sel"},{"x":0.501,"y":77.9,"g":"O","s":"sel"},{"x":0.505,"y":71.2,"g":"O","s":"sel"},{"x":0.505,"y":67.1,"g":"O","s":"sel"},{"x":0.523,"y":68.5,"g":"O","s":"sel"},{"x":0.334,"y":92.1,"g":"O","s":"sel"},{"x":0.402,"y":100.2,"g":"O","s":"sel"},{"x":0.424,"y":96.1,"g":"O","s":"sel"},{"x":0.365,"y":98.0,"g":"O","s":"sel"},{"x":0.380,"y":91.0,"g":"O","s":"sel"},{"x":0.440,"y":89.0,"g":"O","s":"sel"},{"x":0.470,"y":96.0,"g":"O","s":"sel"},{"x":0.455,"y":84.0,"g":"O","s":"sel"},{"x":0.360,"y":84.0,"g":"O","s":"sel"},{"x":0.320,"y":81.0,"g":"O","s":"sel"},{"x":0.390,"y":70.0,"g":"O","s":"sel"},{"x":0.440,"y":71.5,"g":"O","s":"sel"},{"x":0.480,"y":82.0,"g":"O","s":"sel"},{"x":0.545,"y":80.0,"g":"O","s":"sel"},{"x":0.525,"y":88.5,"g":"O","s":"sel"},{"x":0.515,"y":73.5,"g":"O","s":"sel"},{"x":0.375,"y":76.5,"g":"O","s":"sel"},{"x":0.355,"y":89.5,"g":"O","s":"sel"},{"x":0.475,"y":101.0,"g":"O","s":"sel"},
{"x":1.002,"y":163.1,"g":"P","s":"sel"},{"x":0.956,"y":160.9,"g":"P","s":"sel"},{"x":1.126,"y":164.3,"g":"P","s":"sel"},{"x":1.159,"y":165.3,"g":"P","s":"sel"},{"x":1.030,"y":160.1,"g":"P","s":"sel"},{"x":1.067,"y":160.1,"g":"P","s":"sel"},{"x":0.932,"y":155.2,"g":"P","s":"sel"},{"x":0.958,"y":155.8,"g":"P","s":"sel"},{"x":0.976,"y":154.3,"g":"P","s":"sel"},{"x":0.991,"y":155.4,"g":"P","s":"sel"},{"x":1.009,"y":158.4,"g":"P","s":"sel"},{"x":1.038,"y":156.8,"g":"P","s":"sel"},{"x":1.078,"y":157.4,"g":"P","s":"sel"},{"x":1.103,"y":154.3,"g":"P","s":"sel"},{"x":1.020,"y":154.1,"g":"P","s":"sel"},{"x":0.988,"y":152.0,"g":"P","s":"sel"},{"x":0.952,"y":151.3,"g":"P","s":"sel"},{"x":1.038,"y":150.7,"g":"P","s":"sel"},{"x":0.975,"y":148.7,"g":"P","s":"sel"},{"x":1.000,"y":147.6,"g":"P","s":"sel"},{"x":1.015,"y":147.6,"g":"P","s":"sel"},{"x":1.055,"y":146.7,"g":"P","s":"sel"},{"x":0.966,"y":145.3,"g":"P","s":"sel"},{"x":1.092,"y":144.0,"g":"P","s":"sel"},{"x":1.146,"y":150.0,"g":"P","s":"sel"},{"x":1.159,"y":146.7,"g":"P","s":"sel"},{"x":1.219,"y":155.8,"g":"P","s":"sel"},{"x":0.997,"y":141.9,"g":"P","s":"sel"},{"x":1.024,"y":142.6,"g":"P","s":"sel"},{"x":1.054,"y":141.9,"g":"P","s":"sel"},{"x":1.069,"y":141.7,"g":"P","s":"sel"},{"x":0.954,"y":139.9,"g":"P","s":"sel"},{"x":0.976,"y":139.9,"g":"P","s":"sel"},{"x":1.051,"y":139.5,"g":"P","s":"sel"},{"x":0.907,"y":137.2,"g":"P","s":"sel"},{"x":0.966,"y":137.9,"g":"P","s":"sel"},{"x":0.997,"y":137.9,"g":"P","s":"sel"},{"x":1.027,"y":137.2,"g":"P","s":"sel"},{"x":1.072,"y":136.6,"g":"P","s":"sel"},{"x":1.096,"y":137.9,"g":"P","s":"sel"},{"x":0.976,"y":135.5,"g":"P","s":"sel"},{"x":0.997,"y":136.6,"g":"P","s":"sel"},{"x":1.060,"y":137.9,"g":"P","s":"sel"},{"x":0.919,"y":131.8,"g":"P","s":"sel"},{"x":0.955,"y":129.1,"g":"P","s":"sel"},{"x":0.988,"y":130.5,"g":"P","s":"sel"},{"x":1.030,"y":135.2,"g":"P","s":"sel"},{"x":1.030,"y":130.5,"g":"P","s":"sel"},{"x":1.072,"y":130.5,"g":"P","s":"sel"},{"x":1.084,"y":129.1,"g":"P","s":"sel"},{"x":1.128,"y":132.5,"g":"P","s":"sel"},{"x":0.995,"y":127.1,"g":"P","s":"sel"},{"x":1.045,"y":128.2,"g":"P","s":"sel"},{"x":1.078,"y":126.4,"g":"P","s":"sel"},{"x":0.955,"y":125.8,"g":"P","s":"sel"},{"x":1.005,"y":123.7,"g":"P","s":"sel"},{"x":1.060,"y":125.5,"g":"P","s":"sel"},{"x":1.084,"y":124.7,"g":"P","s":"sel"},{"x":1.168,"y":129.5,"g":"P","s":"sel"},{"x":1.199,"y":124.7,"g":"P","s":"sel"},{"x":0.952,"y":118.0,"g":"P","s":"sel"},{"x":1.033,"y":118.8,"g":"P","s":"sel"},{"x":1.065,"y":118.8,"g":"P","s":"sel"},{"x":1.030,"y":113.0,"g":"P","s":"sel"},{"x":0.946,"y":111.2,"g":"P","s":"sel"},{"x":0.971,"y":121.0,"g":"P","s":"sel"},{"x":0.946,"y":87.6,"g":"P","s":"sel"},{"x":0.912,"y":100.6,"g":"P","s":"sel"}
 ],
 "fitA": [
{"x":0.06,"y":26.8,"g":"G","b":"fit","k":"fit"},{"x":0.297,"y":68.0,"g":"G","b":"fit","k":"fit"},
{"x":0.06,"y":31.6,"g":"G","b":"up","k":"ci"},{"x":0.297,"y":72.8,"g":"G","b":"up","k":"ci"},
{"x":0.06,"y":22.6,"g":"G","b":"lo","k":"ci"},{"x":0.297,"y":62.2,"g":"G","b":"lo","k":"ci"},
{"x":0.30,"y":83.7,"g":"O","b":"fit","k":"fit"},{"x":0.70,"y":79.7,"g":"O","b":"fit","k":"fit"},
{"x":0.30,"y":90.95,"g":"O","b":"up","k":"ci"},{"x":0.35,"y":89.17,"g":"O","b":"up","k":"ci"},{"x":0.40,"y":87.67,"g":"O","b":"up","k":"ci"},{"x":0.45,"y":86.64,"g":"O","b":"up","k":"ci"},{"x":0.50,"y":86.25,"g":"O","b":"up","k":"ci"},{"x":0.55,"y":86.45,"g":"O","b":"up","k":"ci"},{"x":0.60,"y":87.06,"g":"O","b":"up","k":"ci"},{"x":0.65,"y":87.9,"g":"O","b":"up","k":"ci"},{"x":0.70,"y":88.85,"g":"O","b":"up","k":"ci"},
{"x":0.30,"y":76.45,"g":"O","b":"lo","k":"ci"},{"x":0.35,"y":77.23,"g":"O","b":"lo","k":"ci"},{"x":0.40,"y":77.73,"g":"O","b":"lo","k":"ci"},{"x":0.45,"y":77.76,"g":"O","b":"lo","k":"ci"},{"x":0.50,"y":77.15,"g":"O","b":"lo","k":"ci"},{"x":0.55,"y":75.95,"g":"O","b":"lo","k":"ci"},{"x":0.60,"y":74.34,"g":"O","b":"lo","k":"ci"},{"x":0.65,"y":72.5,"g":"O","b":"lo","k":"ci"},{"x":0.70,"y":70.55,"g":"O","b":"lo","k":"ci"},
{"x":0.70,"y":115.0,"g":"P","b":"fit","k":"fit"},{"x":1.483,"y":179.1,"g":"P","b":"fit","k":"fit"},
{"x":0.70,"y":123.1,"g":"P","b":"up","k":"ci"},{"x":0.85,"y":134.5,"g":"P","b":"up","k":"ci"},{"x":1.00,"y":146.4,"g":"P","b":"up","k":"ci"},{"x":1.15,"y":158.8,"g":"P","b":"up","k":"ci"},{"x":1.30,"y":171.5,"g":"P","b":"up","k":"ci"},{"x":1.483,"y":188.0,"g":"P","b":"up","k":"ci"},
{"x":0.70,"y":106.9,"g":"P","b":"lo","k":"ci"},{"x":0.85,"y":120.1,"g":"P","b":"lo","k":"ci"},{"x":1.00,"y":132.8,"g":"P","b":"lo","k":"ci"},{"x":1.15,"y":145.0,"g":"P","b":"lo","k":"ci"},{"x":1.30,"y":156.7,"g":"P","b":"lo","k":"ci"},{"x":1.483,"y":170.2,"g":"P","b":"lo","k":"ci"}
 ],
 "fitB": [
{"x":0.03,"y":23.0,"g":"G","b":"fit","k":"fit"},{"x":0.06,"y":27.0,"g":"G","b":"fit","k":"fit"},{"x":0.09,"y":31.5,"g":"G","b":"fit","k":"fit"},{"x":0.12,"y":36.5,"g":"G","b":"fit","k":"fit"},{"x":0.15,"y":41.5,"g":"G","b":"fit","k":"fit"},{"x":0.18,"y":46.5,"g":"G","b":"fit","k":"fit"},{"x":0.21,"y":51.5,"g":"G","b":"fit","k":"fit"},{"x":0.24,"y":56.5,"g":"G","b":"fit","k":"fit"},{"x":0.27,"y":62.0,"g":"G","b":"fit","k":"fit"},{"x":0.30,"y":67.5,"g":"G","b":"fit","k":"fit"},
{"x":0.03,"y":29.0,"g":"G","b":"up","k":"ci"},{"x":0.06,"y":33.5,"g":"G","b":"up","k":"ci"},{"x":0.09,"y":38.0,"g":"G","b":"up","k":"ci"},{"x":0.12,"y":43.0,"g":"G","b":"up","k":"ci"},{"x":0.15,"y":49.0,"g":"G","b":"up","k":"ci"},{"x":0.18,"y":55.5,"g":"G","b":"up","k":"ci"},{"x":0.21,"y":61.5,"g":"G","b":"up","k":"ci"},{"x":0.24,"y":67.5,"g":"G","b":"up","k":"ci"},{"x":0.27,"y":73.0,"g":"G","b":"up","k":"ci"},{"x":0.30,"y":78.5,"g":"G","b":"up","k":"ci"},
{"x":0.03,"y":17.5,"g":"G","b":"lo","k":"ci"},{"x":0.06,"y":21.0,"g":"G","b":"lo","k":"ci"},{"x":0.09,"y":25.0,"g":"G","b":"lo","k":"ci"},{"x":0.12,"y":29.0,"g":"G","b":"lo","k":"ci"},{"x":0.15,"y":33.5,"g":"G","b":"lo","k":"ci"},{"x":0.18,"y":38.0,"g":"G","b":"lo","k":"ci"},{"x":0.21,"y":42.5,"g":"G","b":"lo","k":"ci"},{"x":0.24,"y":47.5,"g":"G","b":"lo","k":"ci"},{"x":0.27,"y":52.5,"g":"G","b":"lo","k":"ci"},{"x":0.30,"y":58.0,"g":"G","b":"lo","k":"ci"},
{"x":0.300,"y":85.8,"g":"O","b":"fit","k":"fit"},{"x":0.325,"y":85.2,"g":"O","b":"fit","k":"fit"},{"x":0.350,"y":85.4,"g":"O","b":"fit","k":"fit"},{"x":0.375,"y":84.7,"g":"O","b":"fit","k":"fit"},{"x":0.400,"y":84.9,"g":"O","b":"fit","k":"fit"},{"x":0.425,"y":84.3,"g":"O","b":"fit","k":"fit"},{"x":0.450,"y":84.0,"g":"O","b":"fit","k":"fit"},{"x":0.475,"y":84.2,"g":"O","b":"fit","k":"fit"},{"x":0.500,"y":83.4,"g":"O","b":"fit","k":"fit"},{"x":0.525,"y":83.5,"g":"O","b":"fit","k":"fit"},{"x":0.550,"y":82.8,"g":"O","b":"fit","k":"fit"},{"x":0.575,"y":82.9,"g":"O","b":"fit","k":"fit"},{"x":0.600,"y":82.2,"g":"O","b":"fit","k":"fit"},{"x":0.625,"y":82.0,"g":"O","b":"fit","k":"fit"},{"x":0.650,"y":81.6,"g":"O","b":"fit","k":"fit"},{"x":0.675,"y":81.7,"g":"O","b":"fit","k":"fit"},{"x":0.700,"y":80.8,"g":"O","b":"fit","k":"fit"},
{"x":0.300,"y":100.5,"g":"O","b":"up","k":"ci"},{"x":0.325,"y":99.6,"g":"O","b":"up","k":"ci"},{"x":0.350,"y":99.9,"g":"O","b":"up","k":"ci"},{"x":0.375,"y":99.0,"g":"O","b":"up","k":"ci"},{"x":0.400,"y":98.7,"g":"O","b":"up","k":"ci"},{"x":0.425,"y":98.9,"g":"O","b":"up","k":"ci"},{"x":0.450,"y":98.1,"g":"O","b":"up","k":"ci"},{"x":0.475,"y":98.4,"g":"O","b":"up","k":"ci"},{"x":0.500,"y":97.6,"g":"O","b":"up","k":"ci"},{"x":0.525,"y":97.9,"g":"O","b":"up","k":"ci"},{"x":0.550,"y":97.3,"g":"O","b":"up","k":"ci"},{"x":0.575,"y":97.6,"g":"O","b":"up","k":"ci"},{"x":0.600,"y":97.2,"g":"O","b":"up","k":"ci"},{"x":0.625,"y":97.7,"g":"O","b":"up","k":"ci"},{"x":0.650,"y":97.4,"g":"O","b":"up","k":"ci"},{"x":0.675,"y":98.1,"g":"O","b":"up","k":"ci"},{"x":0.700,"y":97.8,"g":"O","b":"up","k":"ci"},
{"x":0.300,"y":73.4,"g":"O","b":"lo","k":"ci"},{"x":0.325,"y":72.8,"g":"O","b":"lo","k":"ci"},{"x":0.350,"y":73.0,"g":"O","b":"lo","k":"ci"},{"x":0.375,"y":72.4,"g":"O","b":"lo","k":"ci"},{"x":0.400,"y":72.5,"g":"O","b":"lo","k":"ci"},{"x":0.425,"y":71.8,"g":"O","b":"lo","k":"ci"},{"x":0.450,"y":71.9,"g":"O","b":"lo","k":"ci"},{"x":0.475,"y":71.2,"g":"O","b":"lo","k":"ci"},{"x":0.500,"y":71.0,"g":"O","b":"lo","k":"ci"},{"x":0.525,"y":70.6,"g":"O","b":"lo","k":"ci"},{"x":0.550,"y":70.1,"g":"O","b":"lo","k":"ci"},{"x":0.575,"y":69.8,"g":"O","b":"lo","k":"ci"},{"x":0.600,"y":69.2,"g":"O","b":"lo","k":"ci"},{"x":0.625,"y":68.9,"g":"O","b":"lo","k":"ci"},{"x":0.650,"y":68.2,"g":"O","b":"lo","k":"ci"},{"x":0.675,"y":67.9,"g":"O","b":"lo","k":"ci"},{"x":0.700,"y":67.3,"g":"O","b":"lo","k":"ci"},
{"x":0.70,"y":114.5,"g":"P","b":"fit","k":"fit"},{"x":0.75,"y":118.8,"g":"P","b":"fit","k":"fit"},{"x":0.80,"y":123.3,"g":"P","b":"fit","k":"fit"},{"x":0.85,"y":127.9,"g":"P","b":"fit","k":"fit"},{"x":0.90,"y":132.8,"g":"P","b":"fit","k":"fit"},{"x":0.95,"y":137.4,"g":"P","b":"fit","k":"fit"},{"x":1.00,"y":142.3,"g":"P","b":"fit","k":"fit"},{"x":1.05,"y":146.9,"g":"P","b":"fit","k":"fit"},{"x":1.10,"y":151.8,"g":"P","b":"fit","k":"fit"},{"x":1.15,"y":157.0,"g":"P","b":"fit","k":"fit"},{"x":1.20,"y":161.8,"g":"P","b":"fit","k":"fit"},{"x":1.25,"y":167.1,"g":"P","b":"fit","k":"fit"},{"x":1.30,"y":172.0,"g":"P","b":"fit","k":"fit"},{"x":1.35,"y":177.3,"g":"P","b":"fit","k":"fit"},{"x":1.40,"y":182.2,"g":"P","b":"fit","k":"fit"},{"x":1.45,"y":187.4,"g":"P","b":"fit","k":"fit"},{"x":1.49,"y":192.3,"g":"P","b":"fit","k":"fit"},
{"x":0.70,"y":134.0,"g":"P","b":"up","k":"ci"},{"x":0.75,"y":138.0,"g":"P","b":"up","k":"ci"},{"x":0.80,"y":143.5,"g":"P","b":"up","k":"ci"},{"x":0.85,"y":147.0,"g":"P","b":"up","k":"ci"},{"x":0.90,"y":152.5,"g":"P","b":"up","k":"ci"},{"x":0.95,"y":157.5,"g":"P","b":"up","k":"ci"},{"x":1.00,"y":164.0,"g":"P","b":"up","k":"ci"},{"x":1.05,"y":170.0,"g":"P","b":"up","k":"ci"},{"x":1.10,"y":177.0,"g":"P","b":"up","k":"ci"},{"x":1.15,"y":184.0,"g":"P","b":"up","k":"ci"},{"x":1.20,"y":190.5,"g":"P","b":"up","k":"ci"},{"x":1.25,"y":196.5,"g":"P","b":"up","k":"ci"},{"x":1.30,"y":203.0,"g":"P","b":"up","k":"ci"},{"x":1.35,"y":209.5,"g":"P","b":"up","k":"ci"},{"x":1.40,"y":216.0,"g":"P","b":"up","k":"ci"},{"x":1.45,"y":224.0,"g":"P","b":"up","k":"ci"},
{"x":0.70,"y":98.0,"g":"P","b":"lo","k":"ci"},{"x":0.75,"y":100.5,"g":"P","b":"lo","k":"ci"},{"x":0.80,"y":104.0,"g":"P","b":"lo","k":"ci"},{"x":0.85,"y":108.5,"g":"P","b":"lo","k":"ci"},{"x":0.90,"y":113.0,"g":"P","b":"lo","k":"ci"},{"x":0.95,"y":116.5,"g":"P","b":"lo","k":"ci"},{"x":1.00,"y":120.0,"g":"P","b":"lo","k":"ci"},{"x":1.05,"y":123.5,"g":"P","b":"lo","k":"ci"},{"x":1.10,"y":127.0,"g":"P","b":"lo","k":"ci"},{"x":1.15,"y":131.0,"g":"P","b":"lo","k":"ci"},{"x":1.20,"y":135.0,"g":"P","b":"lo","k":"ci"},{"x":1.25,"y":139.5,"g":"P","b":"lo","k":"ci"},{"x":1.30,"y":144.0,"g":"P","b":"lo","k":"ci"},{"x":1.35,"y":148.0,"g":"P","b":"lo","k":"ci"},{"x":1.40,"y":152.0,"g":"P","b":"lo","k":"ci"},{"x":1.45,"y":157.0,"g":"P","b":"lo","k":"ci"},{"x":1.487,"y":160.0,"g":"P","b":"lo","k":"ci"}
 ]
},
"bounds": "flush",
"spacing": 58,
"vconcat": [
 {
  "width": 556, "height": 557,
  "title": {"text": "A", "anchor": "start", "frame": "group", "orient": "top", "fontSize": 30, "fontWeight": "bold", "font": "Liberation Sans", "color": "#000000", "baseline": "alphabetic", "offset": -44, "dx": 10},
  "encoding": {
   "x": {"field": "x", "type": "quantitative", "scale": {"domain": [0, 1.5], "nice": false, "zero": false}, "axis": {"values": [0, 0.25, 0.5, 0.75, 1, 1.25, 1.5], "format": ".2~f", "title": null, "labelPadding": 6}},
   "y": {"field": "y", "type": "quantitative", "scale": {"domain": [0, 225], "nice": false}, "axis": {"values": [0, 50, 100, 150, 200], "labelPadding": 7, "title": "V̇O₂ (fH) (ml min⁻¹)", "titleX": -74, "titleY": 584, "titleAngle": 270, "titleAlign": "center", "titleBaseline": "middle"}}
  },
  "layer": [
   {"data": {"name": "pts"}, "mark": {"type": "circle", "size": 45}, "encoding": {
     "color": {"field": "g", "type": "nominal", "scale": {"domain": ["G", "O", "P"], "range": ["#1b9e77", "#d95f02", "#7570b3"]}, "legend": null},
     "opacity": {"field": "s", "type": "nominal", "scale": {"domain": ["all", "sel"], "range": [0.2, 0.68]}, "legend": null}}},
   {"data": {"name": "fitA"}, "mark": {"type": "line", "strokeWidth": 1.6, "clip": true}, "encoding": {
     "color": {"field": "g", "type": "nominal", "legend": null},
     "strokeDash": {"field": "k", "type": "nominal", "scale": {"domain": ["fit", "ci"], "range": [[1, 0], [8, 4]]}, "legend": null},
     "detail": {"field": "b", "type": "nominal"}}}
  ]
 },
 {
  "width": 556, "height": 559,
  "title": {"text": "B", "anchor": "start", "frame": "group", "orient": "top", "fontSize": 30, "fontWeight": "bold", "font": "Liberation Sans", "color": "#000000", "baseline": "alphabetic", "offset": -44, "dx": 10},
  "encoding": {
   "x": {"field": "x", "type": "quantitative", "scale": {"domain": [0, 1.5], "nice": false, "zero": false}, "axis": {"values": [0, 0.25, 0.5, 0.75, 1, 1.25, 1.5], "format": ".2~f", "title": "ODBA (g)", "labelPadding": 6, "titlePadding": 6}},
   "y": {"field": "y", "type": "quantitative", "scale": {"domain": [0, 225], "nice": false}, "axis": {"values": [0, 50, 100, 150, 200], "labelPadding": 7, "title": null}}
  },
  "layer": [
   {"data": {"name": "pts"}, "mark": {"type": "circle", "size": 45}, "encoding": {
     "color": {"field": "g", "type": "nominal", "scale": {"domain": ["G", "O", "P"], "range": ["#1b9e77", "#d95f02", "#7570b3"]}, "legend": null},
     "opacity": {"field": "s", "type": "nominal", "scale": {"domain": ["all", "sel"], "range": [0.2, 0.68]}, "legend": null}}},
   {"data": {"name": "fitB"}, "mark": {"type": "line", "strokeWidth": 1.6, "clip": true}, "encoding": {
     "color": {"field": "g", "type": "nominal", "legend": null},
     "strokeDash": {"field": "k", "type": "nominal", "scale": {"domain": ["fit", "ci"], "range": [[1, 0], [8, 4]]}, "legend": null},
     "detail": {"field": "b", "type": "nominal"}}}
  ]
 }
]
}
